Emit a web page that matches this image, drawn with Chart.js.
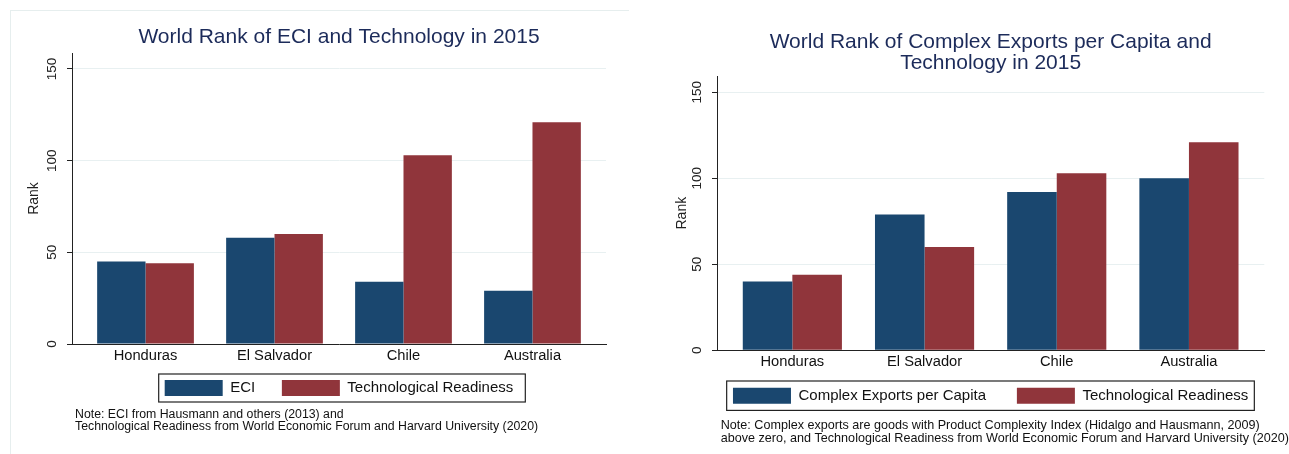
<!DOCTYPE html>
<html>
<head>
<meta charset="utf-8">
<script src="https://cdn.jsdelivr.net/npm/chart.js@4"></script>
<style>
  html, body { margin: 0; padding: 0; background: #fff; overflow: hidden; }
  body { width: 1289px; height: 454px; position: relative; }
  #frame { position: absolute; left: 10px; top: 10px; width: 618px; height: 460px;
           border-top: 1px solid #e6eeee; border-left: 1px solid #e6eeee; }
  canvas { position: absolute; top: 0; }
  #eciChart { left: 0; }
  #exportsChart { left: 640px; }
</style>
</head>
<body>
<div id="frame"></div>
<canvas id="eciChart" width="640" height="454"></canvas>
<canvas id="exportsChart" width="649" height="454"></canvas>
<script>
const countries = ['Honduras', 'El Salvador', 'Chile', 'Australia'];
const eciRank = [45, 58, 34, 29];
const techRank = [44, 60, 103, 121];
const exportsRank = [40, 79, 92, 100];
const rankTicks = [0, 50, 100, 150];

const NAVY = '#1a476f';
const MAROON = '#90353b';

Chart.defaults.font.family = "'Liberation Sans', Arial, sans-serif";

// box drawn round the legend items, like Stata's legend frame
function legendFrame(pad) {
    return {
        id: 'legendFrame',
        afterDraw(chart) {
            const boxes = chart.legend.legendHitBoxes;
            if (!boxes || !boxes.length) return;
            const left = Math.min(...boxes.map(b => b.left)) - pad[0];
            const top = Math.min(...boxes.map(b => b.top)) - pad[1];
            const right = Math.max(...boxes.map(b => b.left + b.width)) + pad[2];
            const bottom = Math.max(...boxes.map(b => b.top + b.height)) + pad[3];
            const ctx = chart.ctx;
            ctx.save();
            ctx.strokeStyle = '#222';
            ctx.lineWidth = 1.2;
            ctx.strokeRect(left, top, right - left, bottom - top);
            ctx.restore();
        }
    };
}

// source note under the legend
function sourceNote(lines, size, dx, y, gap) {
    return {
        id: 'sourceNote',
        afterDraw(chart) {
            const ctx = chart.ctx;
            ctx.save();
            ctx.font = size + "px 'Liberation Sans', Arial, sans-serif";
            ctx.fillStyle = '#111';
            ctx.textAlign = 'left';
            ctx.textBaseline = 'alphabetic';
            lines.forEach((line, i) => ctx.fillText(line, chart.chartArea.left + dx, y + i * gap));
            ctx.restore();
        }
    };
}

function rankChart(id, cfg) {
    const ctx = document.getElementById(id).getContext('2d');
    return new Chart(ctx, {
        type: 'bar',
        data: {
            datasets: [{
                label: cfg.firstLabel,
                data: cfg.first.map((v, i) => ({ x: i, y: v })),
                backgroundColor: NAVY,
                borderWidth: 0
            }, {
                label: 'Technological Readiness',
                data: techRank.map((v, i) => ({ x: i, y: v })),
                backgroundColor: MAROON,
                borderWidth: 0
            }]
        },
        options: {
            responsive: false,
            animation: false,
            events: [],
            categoryPercentage: 0.75,
            barPercentage: 1,
            layout: { padding: cfg.padding },
            scales: {
                x: {
                    type: 'linear',
                    offset: false,
                    min: -0.57,
                    max: 3.57,
                    afterBuildTicks: s => { s.ticks = countries.map((c, i) => ({ value: i })); },
                    afterFit: s => { s.height = cfg.xHeight; },
                    grid: { display: false, drawTicks: false },
                    border: { display: true, color: '#222', width: 1 },
                    ticks: {
                        callback: v => countries[v],
                        padding: 3,
                        autoSkip: false,
                        maxRotation: 0,
                        color: '#111',
                        font: { size: 14.7 }
                    }
                },
                y: {
                    min: 0,
                    max: cfg.yMax,
                    afterBuildTicks: s => { s.ticks = rankTicks.map(v => ({ value: v })); },
                    afterFit: s => { s.width = 50; },
                    border: { color: '#222', width: 1 },
                    grid: { color: '#e8f0f1', tickColor: '#222', tickLength: 5 },
                    ticks: {
                        minRotation: 90,
                        maxRotation: 90,
                        crossAlign: 'center',
                        padding: 3.3,
                        color: '#222',
                        font: { size: 13.5 }
                    },
                    title: {
                        display: true,
                        text: 'Rank',
                        color: '#222',
                        font: { size: 14 },
                        padding: { top: cfg.rankPad, bottom: 0 }
                    }
                }
            },
            plugins: {
                tooltip: { enabled: false },
                title: {
                    display: true,
                    fullSize: false,
                    text: cfg.title,
                    color: '#1c2b5a',
                    font: { size: 21, weight: 'normal', lineHeight: cfg.titleLineHeight },
                    padding: { top: 0, bottom: cfg.titleGap }
                },
                legend: {
                    position: 'bottom',
                    fullSize: false,
                    labels: {
                        boxWidth: 58,
                        boxHeight: 16,
                        padding: 10,
                        color: '#111',
                        font: { size: 15 },
                        generateLabels: chart => Chart.defaults.plugins.legend.labels.generateLabels(chart)
                            .map((item, i, all) => ({ ...item, text: i < all.length - 1 ? item.text + cfg.legendGap : item.text }))
                    }
                }
            }
        },
        plugins: [legendFrame(cfg.framePad), sourceNote(cfg.note, cfg.noteSize, cfg.noteDx, cfg.noteY, 12.5)]
    });
}

// ECI vs Technological Readiness
rankChart('eciChart', {
    title: 'World Rank of ECI and Technology in 2015',
    titleLineHeight: 1.2,
    titleGap: 3.4,
    first: eciRank,
    firstLabel: 'ECI',
    legendGap: '    ',
    yMax: 158.7,
    xHeight: 26,
    rankPad: 3.6,
    padding: { top: 24.4, left: 22, right: 34, bottom: 48 },
    framePad: [6, 6, 12, 6],
    note: ['Note: ECI from Hausmann and others (2013) and',
           'Technological Readiness from World Economic Forum and Harvard University (2020)'],
    noteSize: 12.3,
    noteDx: 3,
    noteY: 417.5
});

// Complex exports per capita vs Technological Readiness
rankChart('exportsChart', {
    title: ['World Rank of Complex Exports per Capita and', 'Technology in 2015'],
    titleLineHeight: 1.0,
    titleGap: 2.5,
    first: exportsRank,
    firstLabel: 'Complex Exports per Capita',
    legendGap: '     ',
    yMax: 159.5,
    xHeight: 27.4,
    rankPad: 7.1,
    padding: { top: 31.5, left: 27, right: 24.7, bottom: 40.3 },
    framePad: [6.3, 6.7, 6, 6.7],
    note: ['Note: Complex exports are goods with Product Complexity Index (Hidalgo and Hausmann, 2009)',
           'above zero, and Technological Readiness from World Economic Forum and Harvard University (2020)'],
    noteSize: 12.6,
    noteDx: 3.7,
    noteY: 429
});
</script>
</body>
</html>
